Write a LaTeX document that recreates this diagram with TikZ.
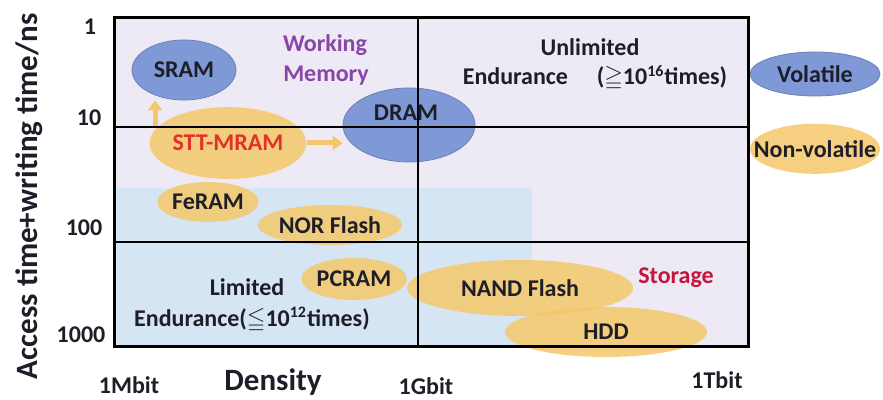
\documentclass[tikz,border=0pt]{standalone}
\usepackage{fontspec}
\setmainfont{Carlito}
\usepackage{amssymb}
\usepackage{tikz}
\usetikzlibrary{positioning,shapes.geometric,arrows.meta}

\definecolor{vblue}{HTML}{7F99D6}
\definecolor{nvyellow}{HTML}{F4C86A}
\definecolor{lavender}{HTML}{EEEAF5}
\definecolor{paleblue}{HTML}{D5E5F4}
\definecolor{wmpurple}{HTML}{8A45A8}
\definecolor{sttred}{HTML}{E3302A}
\definecolor{storred}{HTML}{C4163C}
\definecolor{ink}{HTML}{1E1E28}

\begin{document}
\begin{tikzpicture}[x=0.5pt, y=-0.5pt,
  every node/.style={font=\bfseries\fontsize{12}{13}\selectfont, text=ink},
  big/.style={font=\bfseries\fontsize{15.5}{16}\selectfont},
  vol/.style={ellipse, fill=vblue, draw=vblue!85!black, inner sep=0pt},
  nvol/.style={ellipse, fill=nvyellow, fill opacity=0.85, text opacity=1, inner sep=0pt},
  yarrow/.style={draw=nvyellow, line width=2.5pt, -{Triangle[length=5pt,width=7pt]}}]

\useasboundingbox (0,0) rectangle (883,400);

% Chart background
\fill[lavender] (114,18) rectangle (748,347);
\fill[paleblue] (114,188) rectangle (532,347);

% Volatile memories
\node[vol, minimum width=52pt, minimum height=30pt] (sram) at (184,70) {SRAM};
\node[vol, minimum width=66pt, minimum height=37pt] (dram) at (409,125) {};

% Non-volatile memories
\node[nvol, minimum width=50pt, minimum height=20pt] (feram) at (208,202) {FeRAM};
\node[nvol, minimum width=72pt, minimum height=36pt, text=sttred] (stt) at (228,143) {STT-MRAM};
\node[nvol, minimum width=65pt, minimum height=20pt] (nor) at (330,225) {NOR Flash};
\node[nvol, minimum width=46pt, minimum height=21pt] (pcram) at (354,279) {PCRAM};
\node[nvol, minimum width=101pt, minimum height=25pt] (hdd) at (606,332) {HDD};
\node[nvol, minimum width=113pt, minimum height=28pt] (nand) at (520,288) {NAND Flash};

% Legend
\node[vol, minimum width=65pt, minimum height=22pt] (volatile) at (815,74) {Volatile};
\node[nvol, minimum width=65pt, minimum height=25pt] (nonvol) [below=13.5pt of volatile] {\makebox[0pt]{Non-volatile}};

% Arrows from STT-MRAM
\coordinate (sttup) at (155,128);
\draw[yarrow] (sttup) -- (sttup |- sram.south);
\draw[yarrow] (stt.east) -- (stt.east -| dram.west);

% Grid
\draw[line width=1.5pt] (114,18) rectangle (748,347);
\draw[line width=1.1pt] (418,18) -- (418,347);
\draw[line width=1.1pt] (114,127) -- (748,127);
\draw[line width=1.1pt] (114,242) -- (748,242);

% Region labels
\node (dramtxt) at (406,113) {DRAM};
\node[text=wmpurple] (working) at (325,45) {Working};
\node[text=wmpurple] (memory) at (326,76) {Memory};
\node (unlim) at (590,47) {Unlimited};
\node (unlimend) at (595,78) {Endurance\hspace{1.2em}($\geqq$10\textsuperscript{16}times)};
\node (lim) at (247,287) {Limited};
\node (limend) at (252,320) {Endurance($\leqq$10\textsuperscript{12}times)};
\node[text=storred] (storage) at (676,278) {Storage};

% Axes
\node (t1) at (90,27) {1};
\node (t10) at (89,118) {10};
\node (t100) at (84,228) {100};
\node (t1000) at (81,335) {1000};
\node (mbit) at (129,385) {1Mbit};
\node[big] (density) at (273,382) {Density};
\node (gbit) at (426,386) {1Gbit};
\node (tbit) at (717,380) {1Tbit};
\node[big, rotate=90] (ylabel) at (29,196) {Access time+writing time/ns};

\end{tikzpicture}
\end{document}
